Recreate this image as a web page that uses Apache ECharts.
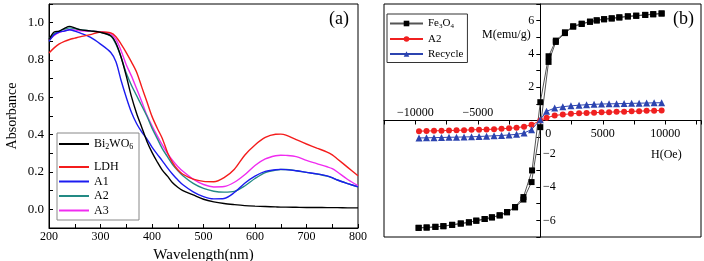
<!DOCTYPE html>
<html>
<head>
<meta charset="utf-8">
<script src="https://cdn.jsdelivr.net/npm/echarts@6/dist/echarts.min.js"></script>
<style>html,body{margin:0;padding:0;background:#fff;}#c{width:704px;height:261px;}</style>
</head>
<body>
<div id="c"></div>
<script>
// ---------- Panel (a): UV-vis absorbance ----------
var wavelength = [200,210,220,230,240,250,260,280,300,320,330,340,350,360,370,380,390,400,410,420,430,440,450,460,480,500,520,540,560,580,600,620,640,650,660,680,700,720,740,750,760,780,800];
var bwoAbs = [0.91,0.95,0.955,0.97,0.98,0.972,0.963,0.956,0.948,0.93,0.89,0.815,0.715,0.605,0.515,0.44,0.365,0.305,0.255,0.21,0.178,0.142,0.118,0.1,0.077,0.054,0.04,0.031,0.025,0.02,0.017,0.015,0.013,0.012,0.012,0.011,0.01,0.01,0.009,0.009,0.009,0.008,0.008];
var ldhAbs = [0.838,0.865,0.886,0.9,0.91,0.917,0.924,0.936,0.95,0.945,0.925,0.885,0.84,0.79,0.736,0.656,0.578,0.498,0.436,0.38,0.305,0.25,0.212,0.188,0.162,0.15,0.148,0.17,0.215,0.29,0.345,0.385,0.402,0.403,0.398,0.373,0.35,0.328,0.307,0.292,0.27,0.225,0.18];
var a1Abs = [0.9,0.935,0.95,0.955,0.962,0.955,0.945,0.922,0.885,0.84,0.79,0.69,0.6,0.52,0.46,0.415,0.378,0.333,0.296,0.26,0.222,0.188,0.158,0.132,0.094,0.068,0.056,0.058,0.09,0.14,0.178,0.203,0.212,0.214,0.213,0.207,0.198,0.19,0.179,0.17,0.157,0.138,0.12];
var a2Abs = [0.914,0.94,0.955,0.965,0.972,0.968,0.963,0.956,0.95,0.928,0.885,0.815,0.73,0.665,0.61,0.555,0.5,0.435,0.38,0.325,0.282,0.24,0.208,0.18,0.139,0.112,0.097,0.092,0.096,0.125,0.165,0.197,0.21,0.213,0.213,0.207,0.198,0.189,0.178,0.169,0.157,0.138,0.12];
var a3Abs = [0.909,0.932,0.948,0.956,0.962,0.96,0.957,0.954,0.952,0.94,0.91,0.85,0.775,0.715,0.647,0.578,0.505,0.448,0.395,0.345,0.3,0.262,0.23,0.204,0.162,0.133,0.12,0.122,0.145,0.185,0.235,0.27,0.287,0.29,0.289,0.282,0.262,0.245,0.228,0.218,0.2,0.16,0.127];
var seriesNamesA = ['Bi2WO6','LDH','A1','A2','A3'];

// ---------- Panel (b): magnetic hysteresis ----------
var feDescH = [9700,9030,8390,7670,7000,6320,5710,5100,4510,3970,3310,2630,1970,1240,660,0,-660,-1350,-2020,-2660,-3250,-3870,-4450,-5120,-5710,-6360,-7050,-7750,-8390,-9090,-9730];
var feDescM = [6.43,6.39,6.35,6.30,6.26,6.20,6.14,6.09,6.02,5.94,5.82,5.66,5.30,4.80,3.86,1.10,-3.00,-4.60,-5.20,-5.50,-5.70,-5.82,-5.92,-6.02,-6.12,-6.19,-6.27,-6.35,-6.39,-6.43,-6.45];
var feAscH = [-9730,-9090,-8390,-7750,-7050,-6360,-5710,-5120,-4450,-3870,-3250,-2660,-2020,-1350,-700,0,660,1240,1970,2630,3310,3970,4510,5100,5710,6320,7000,7670,8390,9030,9700];
var feAscM = [-6.45,-6.43,-6.39,-6.35,-6.27,-6.19,-6.12,-6.02,-5.92,-5.82,-5.70,-5.52,-5.22,-4.75,-3.70,-0.40,3.52,4.72,5.25,5.64,5.80,5.93,6.01,6.08,6.13,6.19,6.25,6.29,6.34,6.38,6.43];
var a2H = [-9700,-9100,-8500,-7900,-7300,-6700,-6100,-5500,-4900,-4300,-3700,-3100,-2500,-1900,-1300,-700,0,500,1150,1800,2450,3100,3700,4300,4900,5500,6100,6700,7300,7900,8500,9100,9700];
var a2M = [-0.64,-0.63,-0.62,-0.61,-0.60,-0.59,-0.58,-0.56,-0.55,-0.54,-0.52,-0.50,-0.47,-0.43,-0.37,-0.26,0,0.16,0.30,0.36,0.40,0.43,0.45,0.47,0.49,0.50,0.52,0.53,0.55,0.56,0.58,0.59,0.60];
var recH = [-9700,-9100,-8500,-7900,-7300,-6700,-6100,-5500,-4900,-4300,-3700,-3100,-2500,-1900,-1300,-700,0,500,1150,1800,2450,3100,3700,4300,4900,5500,6100,6700,7300,7900,8500,9100,9700];
var recM = [-1.05,-1.04,-1.03,-1.02,-1.01,-1.00,-0.99,-0.98,-0.96,-0.94,-0.92,-0.90,-0.87,-0.83,-0.75,-0.55,0.05,0.55,0.75,0.83,0.88,0.92,0.95,0.97,0.99,1.00,1.01,1.02,1.03,1.04,1.05,1.06,1.07];

function zip(xs, ys){ return xs.map(function(x,i){ return [x, ys[i]]; }); }
var SERIF = 'Liberation Serif';
var chart = echarts.init(document.getElementById('c'), null, {renderer:'canvas'});

var colorsA = ['#000000','#f41c1c','#1c1cf0','#238a84','#f02cf0'];
var dataA = [bwoAbs, ldhAbs, a1Abs, a2Abs, a3Abs];

var series = [];
seriesNamesA.forEach(function(n,i){
  series.push({name:n, type:'line', xAxisIndex:0, yAxisIndex:0, data:zip(wavelength, dataA[i]),
    symbol:'none', smooth:0.3, lineStyle:{color:colorsA[i], width:1.4}, itemStyle:{color:colorsA[i]}, z: 5-i});
});
var feStyle = {type:'line', xAxisIndex:1, yAxisIndex:1, symbol:'rect', symbolSize:6,
  lineStyle:{color:'#555', width:1}, itemStyle:{color:'#000'}};
series.push(Object.assign({name:'Fe3O4', data:zip(feAscH, feAscM)}, feStyle));
series.push(Object.assign({name:'Fe3O4', data:zip(feDescH, feDescM)}, feStyle));
series.push({name:'A2 ', type:'line', xAxisIndex:1, yAxisIndex:1, data:zip(a2H,a2M), symbol:'circle', symbolSize:6,
  lineStyle:{color:'#f02020', width:1}, itemStyle:{color:'#f02020'}});
series.push({name:'Recycle', type:'line', xAxisIndex:1, yAxisIndex:1, data:zip(recH,recM), symbol:'triangle', symbolSize:7,
  lineStyle:{color:'#2c44b0', width:1}, itemStyle:{color:'#2c44b0'}});

function fmtMinus(v){ return String(v).replace('-', '\u2212'); }

// grid (b) geometry: left 384, width 317, top 4, height 233; x -12500..12850, y -7..7
var gbLeft = 384, gbWidth = 317, gbTop = 4, gbHeight = 233;
var hMin = -12500, hMax = 12850, mMin = -7, mMax = 7;
var zeroXOffset = -(0 - hMin) / (hMax - hMin) * gbWidth;        // move y axis from left edge to H=0
var zeroYOffset = -(0 - mMin) / (mMax - mMin) * gbHeight;       // move x axis from bottom edge to M=0

var option = {
  animation:false,
  backgroundColor:'#fff',
  textStyle:{fontFamily:SERIF},
  title:[
    {text:'(a)', left:329, top:10, padding:0, textStyle:{fontFamily:SERIF, fontSize:18, fontWeight:'normal', color:'#000'}},
    {text:'(b)', left:673, top:10, padding:0, textStyle:{fontFamily:SERIF, fontSize:18, fontWeight:'normal', color:'#000'}},
    {text:'M(emu/g)', left:482, top:29, padding:0, textStyle:{fontFamily:SERIF, fontSize:12, fontWeight:'normal', color:'#000'}},
    {text:'H(Oe)', left:651, top:149, padding:0, textStyle:{fontFamily:SERIF, fontSize:12, fontWeight:'normal', color:'#000'}}
  ],
  grid:[
    {left:49, top:4, width:309, height:224, show:true, borderColor:'#000', borderWidth:1, backgroundColor:'transparent', containLabel:false, outerBoundsMode:'none'},
    {left:gbLeft, top:gbTop, width:gbWidth, height:gbHeight, show:true, borderColor:'#000', borderWidth:1, backgroundColor:'transparent', containLabel:false, outerBoundsMode:'none'}
  ],
  legend:[
    {data:['Bi2WO6'], orient:'vertical', left:59, top:138, padding:0, icon:'rect', itemWidth:30, itemHeight:2, itemGap:0,
      textStyle:{fontFamily:SERIF, fontSize:12, color:'#000', rich:{s:{fontFamily:SERIF, fontSize:8, padding:[5,0,0,0], color:'#000'}}},
      formatter:function(){ return 'Bi{s|2}WO{s|6}'; }},
    {data:['LDH','A1','A2','A3'], orient:'vertical', left:59, top:161, padding:0, icon:'rect', itemWidth:30, itemHeight:2, itemGap:2.5,
      textStyle:{fontFamily:SERIF, fontSize:12, lineHeight:12, color:'#000'}},
    {data:['Fe3O4','A2 ','Recycle'], orient:'vertical', left:387, top:14, padding:[4,4,3,2], itemWidth:33, itemHeight:7, itemGap:4,
      borderColor:'#333', borderWidth:1,
      textStyle:{fontFamily:SERIF, fontSize:11, color:'#000', rich:{s:{fontFamily:SERIF, fontSize:7, padding:[5,0,0,0], color:'#000'}}},
      formatter:function(n){ return n==='Fe3O4' ? 'Fe{s|3}O{s|4}' : n; }}
  ],
  graphic:[
    {type:'rect', shape:{x:57, y:133, width:82, height:87}, style:{fill:'none', stroke:'#888', lineWidth:1}, silent:true, z:1}
  ],
  xAxis:[
    {gridIndex:0, type:'value', min:200, max:800, interval:50,
      name:'Wavelength(nm)', nameLocation:'middle', nameGap:12,
      nameTextStyle:{fontFamily:SERIF, fontSize:15, color:'#000'},
      axisLine:{onZero:false, lineStyle:{color:'#000', width:1}},
      axisTick:{inside:true, length:4, lineStyle:{color:'#000'}},
      axisLabel:{margin:3, fontFamily:SERIF, fontSize:12, color:'#000', formatter:function(v){ return v%100===0 ? String(v) : ''; }},
      splitLine:{show:false}},
    {gridIndex:1, type:'value', min:hMin, max:hMax, interval:2500, position:'bottom', offset:zeroYOffset,
      axisLine:{onZero:false, lineStyle:{color:'#000', width:1}},
      axisTick:{show:true, length:4, lineStyle:{color:'#000'}},
      axisLabel:{margin:0, verticalAlign:'middle', fontFamily:SERIF, fontSize:12, color:'#000',
        formatter:function(v){
          if (v===0) return '{p| }\n{z|0}';
          if (v%5000!==0 || v<-10000) return '';
          return v>0 ? '{p| }\n{p|'+v+'}' : '{n|'+fmtMinus(v)+'}\n{n| }';
        },
        rich:{
          p:{fontFamily:SERIF, fontSize:12, color:'#000', lineHeight:26},
          n:{fontFamily:SERIF, fontSize:12, color:'#000', lineHeight:16},
          z:{fontFamily:SERIF, fontSize:12, color:'#000', lineHeight:26, padding:[0,0,0,16]}
        }},
      splitLine:{show:false}}
  ],
  yAxis:[
    {gridIndex:0, type:'value', min:-0.1, max:1.1, interval:0.1,
      name:'Absorbance', nameLocation:'middle', nameGap:30,
      nameTextStyle:{fontFamily:SERIF, fontSize:14, color:'#000'},
      axisLine:{onZero:false, lineStyle:{color:'#000', width:1}},
      axisTick:{inside:true, length:4, lineStyle:{color:'#000'}},
      axisLabel:{margin:5, fontFamily:SERIF, fontSize:13, color:'#000',
        formatter:function(v){ var k=Math.round(v*10); return (k>=0 && k<=10 && k%2===0) ? (k/10).toFixed(1) : ''; }},
      splitLine:{show:false}},
    {gridIndex:1, type:'value', min:mMin, max:mMax, interval:1, position:'left', offset:zeroXOffset,
      axisLine:{onZero:false, lineStyle:{color:'#000', width:1}},
      axisTick:{show:true, length:4, lineStyle:{color:'#000'}},
      axisLabel:{margin:0, align:'center', fontFamily:SERIF, fontSize:12, color:'#000',
        formatter:function(v){
          if (v===0 || v%2!==0) return '';
          return v>0 ? '{p|'+v+'}' : '{n|'+fmtMinus(v)+'}';
        },
        rich:{
          p:{fontFamily:SERIF, fontSize:12, color:'#000', padding:[0,18,0,0]},
          n:{fontFamily:SERIF, fontSize:12, color:'#000', padding:[0,0,0,18]}
        }},
      splitLine:{show:false}}
  ],
  series: series
};
chart.setOption(option);
</script>
</body>
</html>
